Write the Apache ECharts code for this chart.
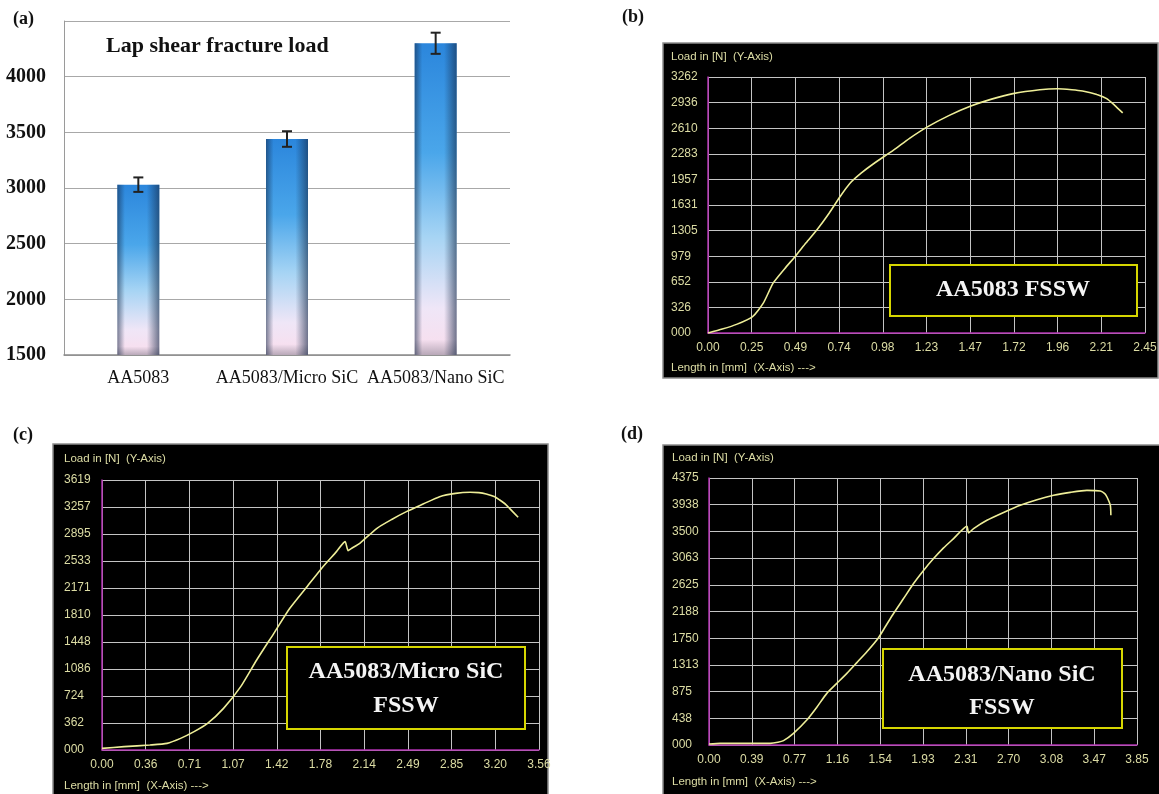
<!DOCTYPE html>
<html>
<head>
<meta charset="utf-8">
<script src="https://cdn.jsdelivr.net/npm/echarts@6/dist/echarts.min.js"></script>
<style>
html,body{margin:0;padding:0;background:#fff;}
#c{width:1159px;height:794px;}
</style>
</head>
<body>
<div id="c"></div>
<script>
// ---------- Panel (a) data ----------
const categoriesA = ['AA5083', 'AA5083/Micro SiC', 'AA5083/Nano SiC'];
const loadA = [3030, 3440, 4300];
const errA = [65, 70, 95];

// ---------- Panel (b) data: AA5083 FSSW ----------
const lengthB = [0, 0.08, 0.16, 0.25, 0.31, 0.365, 0.43, 0.49, 0.55, 0.61, 0.68, 0.74, 0.795, 0.86, 0.93, 1.04, 1.13, 1.23, 1.35, 1.47, 1.59, 1.71, 1.86, 1.96, 2.04, 2.10, 2.18, 2.235, 2.28, 2.325];
const loadB = [0, 50, 110, 210, 380, 635, 820, 979, 1150, 1313, 1530, 1737, 1906, 2040, 2160, 2330, 2480, 2626, 2770, 2889, 2980, 3050, 3100, 3113, 3100, 3083, 3040, 2986, 2901, 2804];
const xTicksB = ['0.00', '0.25', '0.49', '0.74', '0.98', '1.23', '1.47', '1.72', '1.96', '2.21', '2.45'];
const yTicksB = ['000', '326', '652', '979', '1305', '1631', '1957', '2283', '2610', '2936', '3262'];

// ---------- Panel (c) data: AA5083/Micro SiC FSSW ----------
const lengthC = [0, 0.18, 0.39, 0.53, 0.64, 0.75, 0.86, 0.99, 1.13, 1.26, 1.40, 1.53, 1.67, 1.80, 1.91, 1.98, 2.005, 2.03, 2.10, 2.24, 2.36, 2.48, 2.62, 2.75, 2.88, 3.00, 3.07, 3.13, 3.20, 3.24, 3.29, 3.32, 3.39];
const loadC = [22, 45, 67, 89, 156, 246, 357, 558, 849, 1206, 1564, 1899, 2189, 2457, 2659, 2793, 2672, 2700, 2770, 2972, 3090, 3195, 3300, 3396, 3440, 3454, 3450, 3432, 3395, 3351, 3290, 3239, 3119];
const xTicksC = ['0.00', '0.36', '0.71', '1.07', '1.42', '1.78', '2.14', '2.49', '2.85', '3.20', '3.56'];
const yTicksC = ['000', '362', '724', '1086', '1448', '1810', '2171', '2533', '2895', '3257', '3619'];

// ---------- Panel (d) data: AA5083/Nano SiC FSSW ----------
const lengthD = [0, 0.1, 0.55, 0.62, 0.67, 0.76, 0.88, 0.97, 1.06, 1.15, 1.24, 1.33, 1.42, 1.52, 1.59, 1.66, 1.75, 1.84, 1.93, 2.02, 2.11, 2.20, 2.32, 2.335, 2.38, 2.50, 2.65, 2.80, 2.95, 3.10, 3.25, 3.40, 3.52, 3.56, 3.58, 3.61, 3.615];
const loadD = [16, 27, 27, 45, 71, 191, 409, 620, 846, 1010, 1173, 1350, 1528, 1746, 1950, 2155, 2400, 2646, 2860, 3055, 3230, 3382, 3584, 3475, 3546, 3682, 3810, 3928, 4020, 4092, 4140, 4173, 4162, 4120, 4064, 3928, 3764];
const xTicksD = ['0.00', '0.39', '0.77', '1.16', '1.54', '1.93', '2.31', '2.70', '3.08', '3.47', '3.85'];
const yTicksD = ['000', '438', '875', '1313', '1750', '2188', '2625', '3063', '3500', '3938', '4375'];

const SERIF = 'Liberation Serif';
const SANS = 'Liberation Sans';
const TXT = '#dcdca4';
const GRIDC = '#c4c4c4';
const MAG = '#b030b0';
const CURVE = '#eeee98';

function zip(a, b) { return a.map((v, i) => [v, b[i]]); }

// plot panel layouts (pixel boxes)
const panels = [
  { box: [663, 43, 495, 335], grid: [708, 77, 437, 256], xs: xTicksB, ys: yTicksB, data: zip(lengthB, loadB), txt: 671, loadY: 57, lenY: 368 },
  { box: [53, 444, 495, 360], grid: [102, 480, 437, 270], xs: xTicksC, ys: yTicksC, data: zip(lengthC, loadC), txt: 64, loadY: 459, lenY: 786 },
  { box: [663, 445, 500, 360], grid: [709, 478, 428, 267], xs: xTicksD, ys: yTicksD, data: zip(lengthD, loadD), txt: 672, loadY: 458, lenY: 782 }
];

const grids = [{ left: 64, top: 21, width: 446, height: 334, containLabel: false, outerBoundsMode: 'none' }];
const xAxes = [{
  type: 'category', gridIndex: 0, data: categoriesA,
  axisLine: { lineStyle: { color: '#8a8a8a', width: 1.5 } }, axisTick: { show: false },
  axisLabel: { fontFamily: SERIF, fontSize: 18, color: '#111', margin: 14, interval: 0, hideOverlap: false }
}];
const yAxes = [{
  type: 'value', gridIndex: 0, min: 1500, max: 4500, interval: 500,
  axisLine: { show: true, lineStyle: { color: '#9a9a9a' } }, axisTick: { show: false },
  axisLabel: { fontFamily: SERIF, fontSize: 20, fontWeight: 'bold', color: '#111', margin: 18, showMaxLabel: false,
    formatter: v => String(v) },
  splitLine: { lineStyle: { color: '#a8a8a8', width: 1.2 } }
}];
const series = [
  {
    type: 'bar', xAxisIndex: 0, yAxisIndex: 0, data: loadA, barWidth: 42, z: 2,
    itemStyle: {
      color: { type: 'linear', x: 0, y: 0, x2: 0, y2: 1, colorStops: [
        { offset: 0, color: '#2b86dc' }, { offset: 0.35, color: '#4aa6ea' },
        { offset: 0.62, color: '#a6d4f4' }, { offset: 0.85, color: '#efe6f7' },
        { offset: 0.95, color: '#f6e0f0' }, { offset: 1, color: '#b8a8b8' }] }
    }
  },
  {
    type: 'bar', xAxisIndex: 0, yAxisIndex: 0, data: loadA, barWidth: 42, barGap: '-100%', z: 3,
    silent: true,
    itemStyle: {
      color: { type: 'linear', x: 0, y: 0, x2: 1, y2: 0, colorStops: [
        { offset: 0, color: 'rgba(20,40,70,0.55)' }, { offset: 0.18, color: 'rgba(20,40,70,0.0)' },
        { offset: 0.7, color: 'rgba(20,40,70,0.0)' }, { offset: 1, color: 'rgba(20,40,70,0.6)' }] }
    }
  },
  {
    type: 'custom', xAxisIndex: 0, yAxisIndex: 0, z: 5,
    data: loadA.map((v, i) => [i, v - errA[i], v + errA[i]]),
    renderItem: function (params, api) {
      const lo = api.coord([api.value(0), api.value(1)]);
      const hi = api.coord([api.value(0), api.value(2)]);
      const w = 5;
      const st = { stroke: '#222', lineWidth: 2 };
      return { type: 'group', children: [
        { type: 'line', shape: { x1: lo[0], y1: lo[1], x2: hi[0], y2: hi[1] }, style: st },
        { type: 'line', shape: { x1: hi[0] - w, y1: hi[1], x2: hi[0] + w, y2: hi[1] }, style: st },
        { type: 'line', shape: { x1: lo[0] - w, y1: lo[1], x2: lo[0] + w, y2: lo[1] }, style: st }
      ] };
    }
  }
];

const graphics = [
  { type: 'text', left: 13, top: 10, z: 10, style: { text: '(a)', font: 'bold 18px ' + SERIF, fill: '#111' } },
  { type: 'text', left: 622, top: 8, z: 10, style: { text: '(b)', font: 'bold 18px ' + SERIF, fill: '#111' } },
  { type: 'text', left: 13, top: 426, z: 10, style: { text: '(c)', font: 'bold 18px ' + SERIF, fill: '#111' } },
  { type: 'text', left: 621, top: 425, z: 10, style: { text: '(d)', font: 'bold 18px ' + SERIF, fill: '#111' } },
  { type: 'text', left: 106, top: 35, z: 10, style: { text: 'Lap shear fracture load', font: 'bold 22px ' + SERIF, fill: '#111' } }
];

panels.forEach((p, k) => {
  const gi = k + 1;
  const [gx, gy, gw, gh] = p.grid;
  grids.push({ left: gx, top: gy, width: gw, height: gh, containLabel: false, outerBoundsMode: 'none' });
  const xMax = parseFloat(p.xs[p.xs.length - 1]);
  const yMax = parseFloat(p.ys[p.ys.length - 1]);
  const xi = xMax / (p.xs.length - 1);
  const yi = yMax / (p.ys.length - 1);
  xAxes.push({
    type: 'value', gridIndex: gi, min: 0, max: xMax, interval: xi,
    axisLine: { onZero: false, lineStyle: { color: MAG, width: 1.5 } }, axisTick: { show: false },
    axisLabel: { fontFamily: SANS, fontSize: 12, color: TXT, margin: 9,
      formatter: v => p.xs[Math.round(v / xi)] },
    splitLine: { show: true, lineStyle: { color: GRIDC, width: 1 } }
  });
  yAxes.push({
    type: 'value', gridIndex: gi, min: 0, max: yMax, interval: yi,
    axisLine: { show: true, onZero: false, lineStyle: { color: MAG, width: 1.5 } }, axisTick: { show: false },
    axisLabel: { fontFamily: SANS, fontSize: 12, color: TXT, align: 'left', margin: gx - p.txt,
      formatter: v => p.ys[Math.round(v / yi)] },
    splitLine: { show: true, lineStyle: { color: GRIDC, width: 1 } }
  });
  series.push({
    type: 'line', xAxisIndex: gi, yAxisIndex: gi, data: p.data, showSymbol: false, smooth: 0.2,
    lineStyle: { color: CURVE, width: 1.6 }, z: 4, silent: true
  });
  const [bx, by, bw, bh] = p.box;
  graphics.push({ type: 'rect', z: -100, shape: { x: bx, y: by, width: bw, height: bh },
    style: { fill: '#000', stroke: '#8c8c8c', lineWidth: 1.5 } });
  graphics.push({ type: 'text', z: 10, x: p.txt, y: p.loadY, style: { text: 'Load in [N]  (Y-Axis)', font: '11.5px ' + SANS, fill: TXT, textVerticalAlign: 'middle' } });
  graphics.push({ type: 'text', z: 10, x: p.txt, y: p.lenY, style: { text: 'Length in [mm]  (X-Axis) --->', font: '11.5px ' + SANS, fill: TXT, textVerticalAlign: 'middle' } });
});

// yellow annotation boxes
const notes = [
  { r: [890, 265, 247, 51], lines: ['AA5083 FSSW'], cx: 1013, ys: [290] },
  { r: [287, 647, 238, 82], lines: ['AA5083/Micro SiC', 'FSSW'], cx: 406, ys: [672, 706] },
  { r: [883, 649, 239, 79], lines: ['AA5083/Nano SiC', 'FSSW'], cx: 1002, ys: [675, 708] }
];
notes.forEach(n => {
  graphics.push({ type: 'rect', z: 20, shape: { x: n.r[0], y: n.r[1], width: n.r[2], height: n.r[3] },
    style: { fill: '#000', stroke: '#d6d600', lineWidth: 2 } });
  n.lines.forEach((t, i) => {
    graphics.push({ type: 'text', z: 21, x: n.cx, y: n.ys[i],
      style: { text: t, font: 'bold 24px ' + SERIF, fill: '#f4f4f4', textAlign: 'center', textVerticalAlign: 'middle' } });
  });
});

const chart = echarts.init(document.getElementById('c'), null, { renderer: 'canvas' });
chart.setOption({
  animation: false,
  backgroundColor: '#fff',
  grid: grids, xAxis: xAxes, yAxis: yAxes, series: series,
  graphic: { elements: graphics }
});
</script>
</body>
</html>
